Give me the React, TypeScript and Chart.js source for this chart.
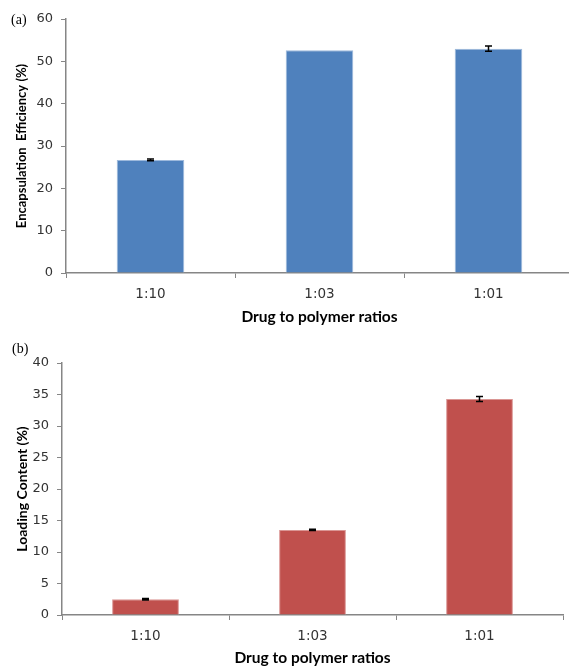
import React, { useEffect, useRef } from 'react';
import { Chart, registerables } from 'chart.js';

Chart.register(...registerables);

const categories = ['1:10', '1:03', '1:01'];
const encapsulationValues = [26.7, 52.6, 53.0];
const encapsulationErrors = [0.2, 0.0, 0.6];
const loadingValues = [2.5, 13.5, 34.3];
const loadingErrors = [0.1, 0.1, 0.4];
const encYTicks = [0, 10, 20, 30, 40, 50, 60];
const loadYTicks = [0, 5, 10, 15, 20, 25, 30, 35, 40];

const AXIS = '#868686';
const TICK_TEXT = '#333333';

const errorBarPlugin = {
  id: 'errorBars',
  afterDatasetsDraw(chart: any, _args: any, opts: any) {
    const errs: number[] = opts.errors || [];
    const meta = chart.getDatasetMeta(0);
    const yScale = chart.scales.y;
    const data = chart.data.datasets[0].data as number[];
    const ctx = chart.ctx;
    ctx.save();
    ctx.strokeStyle = '#000';
    ctx.lineWidth = 1.5;
    meta.data.forEach((bar: any, i: number) => {
      const e = errs[i];
      if (!e) return;
      const v = data[i];
      const x = bar.x;
      const yt = yScale.getPixelForValue(v + e);
      const yb = yScale.getPixelForValue(v - e);
      const cw = 3.5;
      ctx.beginPath();
      ctx.moveTo(x, yt);
      ctx.lineTo(x, yb);
      ctx.moveTo(x - cw, yt);
      ctx.lineTo(x + cw, yt);
      ctx.moveTo(x - cw, yb);
      ctx.lineTo(x + cw, yb);
      ctx.stroke();
    });
    ctx.restore();
  },
};

function makeConfig(
  values: number[],
  errors: number[],
  color: string,
  edge: string,
  yTicks: number[],
  yTitle: string,
  yTitleSize: number,
  yWidth: number,
  xHeight: number,
  padTop: number,
  padRight: number,
  xTitlePadBottom: number
): any {
  return {
    type: 'bar',
    data: {
      labels: categories,
      datasets: [
        {
          data: values,
          backgroundColor: color,
          borderColor: edge,
          borderWidth: 1,
          categoryPercentage: 1,
          barPercentage: 0.4,
        },
      ],
    },
    plugins: [errorBarPlugin],
    options: {
      responsive: false,
      animation: false,
      devicePixelRatio: 1,
      layout: { padding: { top: padTop, right: padRight, left: 0, bottom: 0 } },
      plugins: {
        legend: { display: false },
        tooltip: { enabled: false },
        errorBars: { errors },
      },
      scales: {
        x: {
          grid: {
            display: true,
            drawOnChartArea: false,
            drawTicks: true,
            tickLength: 5,
            color: AXIS,
            offset: true,
          },
          border: { display: true, color: AXIS, width: 1.5 },
          ticks: {
            color: TICK_TEXT,
            font: { family: 'DejaVu Sans', size: 13.5 },
            padding: 8,
          },
          title: {
            display: true,
            text: 'Drug to polymer ratios',
            color: '#000',
            font: { family: 'Lato', size: 15.5, weight: 'bold' },
            padding: { top: 0, bottom: xTitlePadBottom },
          },
          afterFit(scale: any) {
            scale.height = xHeight;
          },
        },
        y: {
          min: yTicks[0],
          max: yTicks[yTicks.length - 1],
          afterBuildTicks(scale: any) {
            scale.ticks = yTicks.map((v) => ({ value: v }));
          },
          grid: {
            display: true,
            drawOnChartArea: false,
            drawTicks: true,
            tickLength: 5,
            color: AXIS,
          },
          border: { display: true, color: AXIS, width: 1.5 },
          ticks: {
            color: TICK_TEXT,
            font: { family: 'DejaVu Sans', size: 13 },
            padding: 8,
          },
          title: {
            display: true,
            text: yTitle,
            color: '#000',
            font: { family: 'Lato', size: yTitleSize, weight: 'bold' },
            padding: { top: 14, bottom: 0 },
          },
          afterFit(scale: any) {
            scale.width = yWidth;
          },
        },
      },
    },
  };
}

function BarPanel(props: {
  config: any;
  width: number;
  height: number;
  top: number;
}) {
  const ref = useRef<HTMLCanvasElement | null>(null);
  useEffect(() => {
    if (!ref.current) return;
    const chart = new Chart(ref.current, props.config);
    return () => chart.destroy();
  }, []);
  return (
    <canvas
      ref={ref}
      width={props.width}
      height={props.height}
      style={{
        position: 'absolute',
        left: 0,
        top: props.top,
        width: props.width,
        height: props.height,
      }}
    />
  );
}

export default function App() {
  const configA = makeConfig(
    encapsulationValues,
    encapsulationErrors,
    '#4F81BD',
    '#9DB9DC',
    encYTicks,
    'Encapsulation  Efficiency (%)',
    13,
    66,
    57,
    19,
    0,
    4
  );
  const configB = makeConfig(
    loadingValues,
    loadingErrors,
    '#C0504D',
    '#DA9694',
    loadYTicks,
    'Loading Content (%)',
    14,
    62,
    53,
    23,
    6,
    1
  );
  return (
    <div
      style={{
        position: 'absolute',
        left: 0,
        top: 0,
        width: 569,
        height: 668,
        overflow: 'hidden',
        background: '#fff',
      }}
    >
      <BarPanel config={configA} width={573} height={330} top={0} />
      <BarPanel config={configB} width={569} height={328} top={340} />
      <div
        style={{
          position: 'absolute',
          left: 11,
          top: 12,
          fontFamily: '"Liberation Serif", serif',
          fontSize: 14,
          color: '#000',
          lineHeight: '16px',
        }}
      >
        (a)
      </div>
      <div
        style={{
          position: 'absolute',
          left: 12,
          top: 341,
          fontFamily: '"Liberation Serif", serif',
          fontSize: 14,
          color: '#000',
          lineHeight: '16px',
        }}
      >
        (b)
      </div>
    </div>
  );
}
